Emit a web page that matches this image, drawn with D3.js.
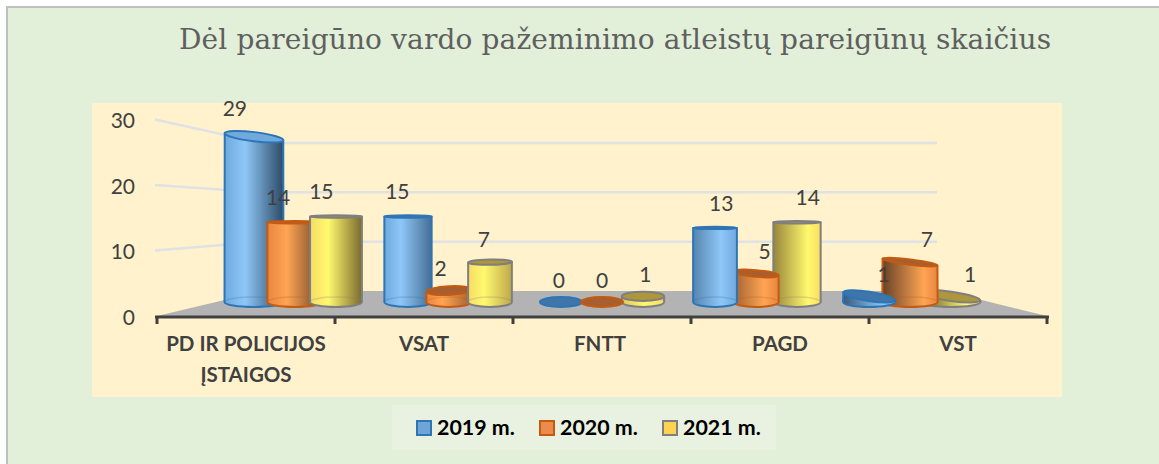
<!DOCTYPE html>
<html><head><meta charset="utf-8">
<script src="https://cdn.jsdelivr.net/npm/d3@7"></script>
<style>html,body{margin:0;padding:0;background:#fff}svg{display:block}</style>
</head><body><svg id="c" width="1159" height="464"></svg>
<script>
const categories = [["PD IR POLICIJOS","ĮSTAIGOS"],["VSAT"],["FNTT"],["PAGD"],["VST"]];
const seriesNames = ["2019 m.","2020 m.","2021 m."];
const values2019 = [29,15,0,13,1];
const values2020 = [14,2,0,5,7];
const values2021 = [15,7,1,14,1];
const yTicks = [0,10,20,30];
const title = "Dėl pareigūno vardo pažeminimo atleistų pareigūnų skaičius";

// visual styling, separate from the data
const seriesStyle = [
 {mid:"#6fa9de",hi:"#8ec7f7",dark:"#2c4a66",stroke:"#2e75b6",top:"#3f76a9",upper:"#6fa9de",sw:"#70a5d8"},
 {mid:"#e8853f",hi:"#ffa553",dark:"#5f3d24",stroke:"#c55a11",top:"#a85f30",upper:"#e8853f",sw:"#ed8b4c"},
 {mid:"#f7dc64",hi:"#fff96e",dark:"#5f5222",stroke:"#7f7f7f",top:"#ad963c",upper:"#f7dc64",sw:"#ffd34f"}];
const topTilt = [[7,0,0],[0,-3,-1],[0,0,0],[0,5,0],[9,7,8]]; // degrees

const svg = d3.select("#c");
const FONT = "Lato, 'Open Sans', sans-serif";
const catKeys = categories.map((d,i)=>i);

svg.append("rect").attr("x",7).attr("y",7).attr("width",1170).attr("height",480)
  .attr("fill","#e2efd9").attr("stroke","#bfbfbf").attr("stroke-width",2);
svg.append("rect").attr("x",92).attr("y",103).attr("width",970).attr("height",294).attr("fill","#fff2cc");
svg.append("rect").attr("x",392).attr("y",405).attr("width",384).attr("height",45).attr("fill","#e9f1e1");

svg.append("text").attr("x",179).attr("y",49).attr("font-family","'DejaVu Serif', serif")
  .attr("font-size",28).attr("fill","#5f5f5f").attr("textLength",872).attr("lengthAdjust","spacing").text(title);

// scales
const xAxisBand = d3.scaleBand().domain(catKeys).range([157,1047]);
const xGroup = d3.scaleBand().domain(catKeys).range([217,987]);
const xSeries = d3.scalePoint().domain([0,1,2]).range([-41,41]);
const xBack = d3.scaleLinear().domain([157,1047]).range([262,942]);
const yFront = d3.scaleLinear().domain([0,30]).range([316,119.5]);
const yBack = d3.scaleLinear().domain([0,30]).range([291,143]);
const yBar = d3.scaleLinear().domain([0,30]).range([302,131]);
const midX = xGroup.range().reduce((a,b)=>a+b)/2;

// floor
svg.append("path").attr("fill","#b3b3b3").attr("d",d3.line()([
  [157,yFront(0)],[xBack(157),yBack(0)],[xBack(1047)+3,yBack(0)],[1047,yFront(0)]]));

// walls gridlines
const grid = svg.append("g").attr("fill","none").attr("stroke","#dfe1e4").attr("stroke-width",2.5);
yTicks.filter(t=>t>0).forEach(t=>{
  grid.append("path").attr("d",d3.line()([[155,yFront(t)],[xBack(157),yBack(t)],[xBack(1047)-5,yBack(t)]]));
});

// y axis labels
const yAxis = svg.append("g").attr("transform","translate(135,1.5)")
  .call(d3.axisLeft(yFront).tickValues(yTicks).tickSize(0).tickPadding(0));
yAxis.select(".domain").remove();
yAxis.selectAll("text").attr("font-family",FONT).attr("font-size",21).attr("fill","#404040");

// x axis
const xa = svg.append("g").attr("stroke","#404040");
xa.append("line").attr("x1",155).attr("x2",1049).attr("y1",317).attr("y2",317).attr("stroke-width",3);
catKeys.concat([5]).forEach(i=>{
  const x = i<5 ? xAxisBand(i) : xAxisBand.range()[1];
  xa.append("line").attr("x1",x).attr("x2",x).attr("y1",317).attr("y2",324).attr("stroke-width",3);
});
categories.forEach((lines,i)=>{
  lines.forEach((s,j)=>svg.append("text").attr("x",xAxisBand(i)+xAxisBand.bandwidth()/2-(i===2?2:0))
    .attr("y",351+j*31).attr("text-anchor","middle").attr("font-family",FONT).attr("font-weight",700)
    .attr("font-size",20.5).attr("fill","#404040").text(s));
});

// bars
const allSeries = [values2019,values2020,values2021];
const bars = [];
catKeys.forEach(c=>allSeries.forEach((vals,s)=>{
  const cx = xGroup(c)+xGroup.bandwidth()/2+xSeries(s)+(c<2?1:0);
  bars.push({c,s,v:vals[c],cx,dx:cx-midX});
}));
const defs = svg.append("defs");
const g = svg.append("g");
const order = catKeys.flatMap(c=>bars.filter(b=>b.c===c).sort((a,b)=>Math.abs(b.dx)-Math.abs(a.dx)));
const eye = 86;
order.forEach((b,i)=>{
  const st = seriesStyle[b.s];
  const w = 42+0.00014*b.dx*b.dx;
  const yTop = yBar(b.v), y0 = yBar(0), h = y0-yTop;
  const ry = Math.max(1.2,5*Math.abs(1-h/eye));
  const ang = topTilt[b.c][b.s]*Math.PI/180;
  const hx = w/2*Math.cos(ang), hy = w/2*Math.sin(ang);
  const t = Math.min(1,Math.pow(Math.abs(b.dx)/330,0.9));
  const shade = d3.interpolateRgb(st.mid,st.dark)(t);
  const id = "g"+i;
  const gr = defs.append("linearGradient").attr("id",id);
  const hiPos = Math.max(35,Math.min(75,50+b.dx*0.12));
  const stops = b.dx<0 ? [[0,st.mid],[hiPos,st.hi],[100,shade]] : [[0,shade],[hiPos,st.hi],[100,st.mid]];
  stops.forEach(d=>gr.append("stop").attr("offset",d[0]+"%").attr("stop-color",d[1]));
  const G = g.append("g");
  if(b.v>0){
    G.append("path").attr("fill",`url(#${id})`).attr("stroke",st.stroke).attr("stroke-width",2)
     .attr("stroke-linejoin","round")
     .attr("d",`M${b.cx-hx},${yTop-hy} L${b.cx-w/2},${y0} A${w/2},5 0 0 0 ${b.cx+w/2},${y0} L${b.cx+hx},${yTop+hy} Z`);
    G.append("path").attr("fill","none").attr("stroke",st.stroke).attr("stroke-opacity",0.25).attr("stroke-width",1.5)
     .attr("d",`M${b.cx-w/2},${y0} A${w/2},5 0 0 1 ${b.cx+w/2},${y0}`);
  }
  G.append("ellipse").attr("cx",b.cx).attr("cy",yTop).attr("rx",w/2).attr("ry",ry)
   .attr("transform",`rotate(${topTilt[b.c][b.s]} ${b.cx} ${yTop})`)
   .attr("fill",h>eye?st.upper:st.top).attr("stroke",st.stroke).attr("stroke-width",2);
});

// value labels
bars.forEach(b=>{
  svg.append("text").attr("x",b.cx+b.dx*0.055).attr("y",yBar(b.v)-21-b.v*0.25).attr("dy","0.35em")
    .attr("text-anchor","middle").attr("font-family",FONT).attr("font-size",21).attr("fill","#404040").text(b.v);
});

// legend
const legendX = d3.scalePoint().domain([0,1,2]).range([417,663]);
seriesNames.forEach((n,i)=>{
  const x = legendX(i);
  svg.append("rect").attr("x",x).attr("y",421).attr("width",14).attr("height",14)
    .attr("fill",seriesStyle[i].sw).attr("stroke",seriesStyle[i].stroke).attr("stroke-width",2);
  svg.append("text").attr("x",x+20).attr("y",435).attr("font-family",FONT).attr("font-weight",700)
    .attr("font-size",21.4).attr("fill","#000").text(n);
});
</script></body></html>
